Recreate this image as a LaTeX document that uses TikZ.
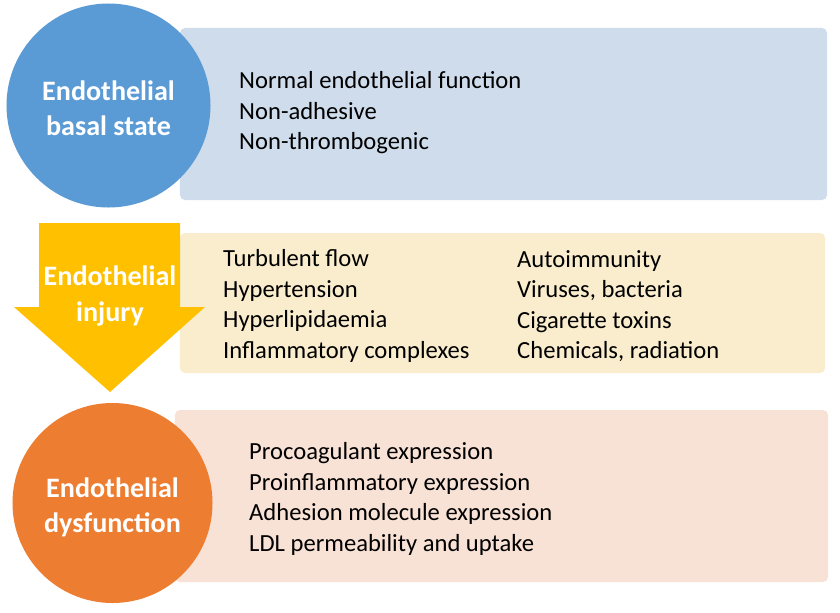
\documentclass[tikz,border=0pt]{standalone}
\usepackage{fontspec}
\setmainfont{Carlito}
\usepackage{xcolor}
\usetikzlibrary{positioning}

\definecolor{basalblue}{RGB}{91,155,213}
\definecolor{basalpanel}{RGB}{207,220,236}
\definecolor{injuryyellow}{RGB}{255,192,0}
\definecolor{injurypanel}{RGB}{249,237,206}
\definecolor{dysorange}{RGB}{237,125,49}
\definecolor{dyspanel}{RGB}{248,225,213}

\begin{document}
\begin{tikzpicture}[
    x=0.03cm,y=-0.03cm,
    panel/.style={rounded corners=0.15cm,inner sep=0pt},
    circ/.style={circle,inner sep=0pt,text=white,align=center,font=\fontsize{24}{30}\selectfont\bfseries},
    items/.style={anchor=west,align=left,inner sep=0pt,font=\fontsize{21}{26}\selectfont}
  ]
    \path[fill=white] (0,0) rectangle (840,612);

    % panels behind the circles
    \node[panel,fill=basalpanel,minimum width=19.41cm,minimum height=5.16cm] (basalbox) at (503.5,114) {};
    \node[panel,fill=injurypanel,minimum width=19.35cm,minimum height=4.2cm] (injurybox) at (502.5,303) {};
    \node[panel,fill=dyspanel,minimum width=19.59cm,minimum height=5.16cm] (dysbox) at (501.5,496) {};

    % arrow
    \fill[injuryyellow] (39,223) -- (180,223) -- (180,307) -- (205,307) -- (110,392)
      -- (14,307) -- (39,307) -- cycle;
    \node[circ,minimum size=0pt] (injury) at (110,296) {Endothelial\\injury};

    \node[circ,fill=basalblue,minimum size=6.12cm] (basal) at (108.5,105.5) {};
    \node[circ] (basallabel) at (108.5,108.5) {Endothelial\\basal state};
    \node[circ,fill=dysorange,minimum size=6.0cm] (dys) at (112.5,503) {};
    \node[circ] (dyslabel) at (112.5,507) {Endothelial\\dysfunction};

    \node[items] (basaltext) at (239,113) {Normal endothelial function\\Non-adhesive\\Non-thrombogenic};
    \node[items] (injuryleft) at (223,306) {Turbulent flow\\Hypertension\\Hyperlipidaemia\\Inflammatory complexes};
    \node[items] (injuryright) at (517,306) {Autoimmunity\\Viruses, bacteria\\Cigarette toxins\\Chemicals, radiation};
    \node[items] (dystext) at (249,499) {Procoagulant expression\\Proinflammatory expression\\Adhesion molecule expression\\LDL permeability and uptake};
  \end{tikzpicture}
\end{document}
